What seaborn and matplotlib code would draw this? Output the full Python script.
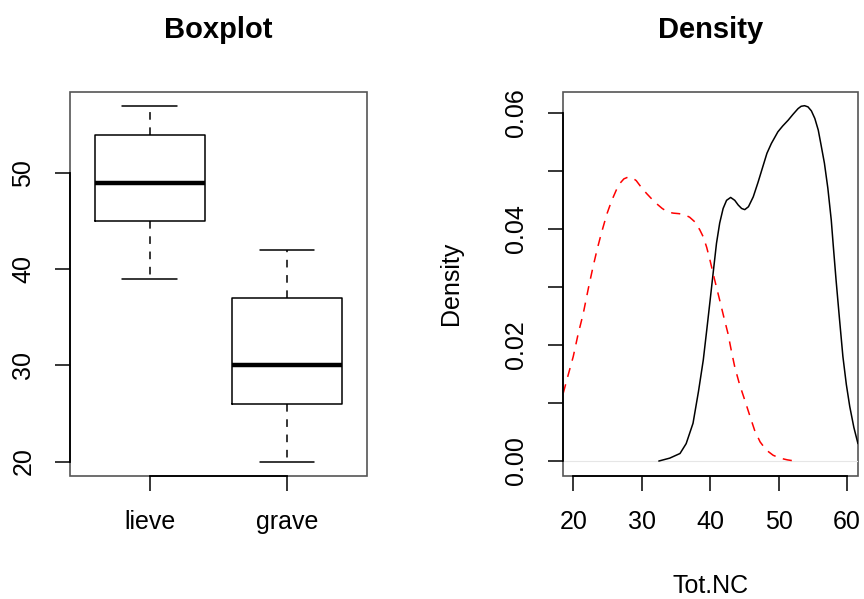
import matplotlib
matplotlib.use("Agg")
import matplotlib.pyplot as plt
import seaborn as sns
import pandas as pd

# five-number summaries (min, Q1, median, Q3, max)
lieve = [39, 45, 49, 54, 57]
grave = [20, 26, 30, 37, 42]
groups = ["lieve", "grave"]

# density curves
lieve_x = [32.5, 34.1, 35.6, 36.5, 37.5, 38.3, 39.0, 39.5, 40.0, 40.5, 40.93, 41.4,
           41.9, 42.4, 43.0, 43.6, 44.1, 44.6, 45.06, 45.6, 46.3, 47.0, 47.7, 48.3,
           48.95, 49.9, 50.6, 51.4, 52.1, 52.85, 53.3, 53.8, 54.3, 54.8, 55.3, 55.8,
           56.2, 56.7, 57.2, 57.7, 58.0, 58.4, 58.9, 59.4, 59.9, 60.4, 61.0, 61.6]
lieve_y = [0.0, 0.0005, 0.0013, 0.003, 0.0065, 0.012, 0.0174, 0.0225, 0.0277, 0.033,
           0.0375, 0.041, 0.0435, 0.0449, 0.0454, 0.0449, 0.0441, 0.0435, 0.0433, 0.0438,
           0.0455, 0.048, 0.0507, 0.053, 0.0547, 0.0567, 0.0577, 0.0587, 0.0597, 0.0607,
           0.0611, 0.0612, 0.061, 0.0603, 0.059, 0.057, 0.0545, 0.0513, 0.047, 0.0415,
           0.037, 0.0312, 0.0245, 0.018, 0.0132, 0.0094, 0.0058, 0.003]
grave_x = [18.54, 19.3, 20.0, 20.7, 21.46, 22.2, 22.9, 23.5, 24.1, 24.9, 25.6, 26.3,
           26.8, 27.4, 28.0, 28.6, 29.2, 29.9, 30.7, 31.5, 32.2, 33.0, 33.8, 34.6,
           35.5, 36.3, 37.0, 37.76, 38.5, 39.0, 39.5, 40.0, 40.6, 41.4, 42.0, 42.6,
           43.1, 43.6, 44.3, 45.06, 45.8, 46.5, 47.3, 48.2, 49.2, 50.2, 51.3, 52.4]
grave_y = [0.0117, 0.015, 0.018, 0.0218, 0.0254, 0.0297, 0.0335, 0.0365, 0.0392, 0.0425,
           0.0448, 0.0467, 0.0478, 0.0486, 0.0489, 0.0488, 0.0483, 0.0472, 0.0461, 0.0451,
           0.0443, 0.0435, 0.0429, 0.0427, 0.0426, 0.0424, 0.042, 0.0412, 0.0398, 0.0386,
           0.0368, 0.0345, 0.0315, 0.0277, 0.0248, 0.022, 0.019, 0.0162, 0.0132, 0.0105,
           0.0078, 0.0053, 0.0033, 0.0019, 0.001, 0.0005, 0.0002, 0.0]

sns.set_theme(style="white")
plt.rcParams["font.family"] = ["Liberation Sans", "DejaVu Sans"]
plt.rcParams.update({"text.color": "black", "axes.labelcolor": "black",
                     "xtick.color": "black", "ytick.color": "black"})

fig = plt.figure(figsize=(8.64, 5.99), dpi=100)
ax1 = fig.add_axes([0.081, 0.2058, 0.3434, 0.641])
ax2 = fig.add_axes([0.6516, 0.2058, 0.3414, 0.641])

df_box = pd.DataFrame({"group": ["lieve"] * len(lieve) + ["grave"] * len(grave),
                       "value": lieve + grave})
sns.boxplot(data=df_box, x="group", y="value", order=groups, ax=ax1,
            fill=False, color="black", linecolor="black", linewidth=1.1, width=0.8,
            whis=1.5, medianprops={"linewidth": 3.2},
            whiskerprops={"linestyle": (0, (5, 5))})
ax1.set_xlim(-0.58, 1.58)
ax1.set_ylim(18.52, 58.48)
ax1.set_yticks([20, 30, 40, 50])
ax1.set_xticks([0, 1])
ax1.set_xticklabels(groups)
ax1.set_xlabel("")
ax1.set_ylabel("")
ax1.set_title("Boxplot", fontsize=21, fontweight="bold", pad=39, color="black")
ax1.spines["left"].set_bounds(20, 50)
ax1.spines["bottom"].set_bounds(0, 1)

sns.lineplot(x=lieve_x, y=lieve_y, ax=ax2, color="black", linewidth=1.1, sort=False)
sns.lineplot(x=grave_x, y=grave_y, ax=ax2, color="red", linewidth=1.1, sort=False,
             dashes=False, linestyle=(0, (6, 5)))
ax2.axhline(0, color="#e6e6e6", linewidth=0.8, zorder=0)
ax2.set_xlim(18.5, 61.6)
ax2.set_ylim(-0.00253, 0.0636)
ax2.set_xticks([20, 30, 40, 50, 60])
ax2.set_yticks([0, 0.01, 0.02, 0.03, 0.04, 0.05, 0.06])
ax2.set_yticklabels(["0.00", "", "0.02", "", "0.04", "", "0.06"])
ax2.set_title("Density", fontsize=21, fontweight="bold", pad=39, color="black")
ax2.set_xlabel("Tot.NC", fontsize=18)
ax2.set_ylabel("Density", fontsize=18)
ax2.xaxis.set_label_coords(0.5, -0.255)
ax2.yaxis.set_label_coords(-0.339, 0.5)
ax2.spines["left"].set_bounds(0, 0.06)
ax2.spines["bottom"].set_bounds(20, 60)

for ax in (ax1, ax2):
    ax.patch.set_edgecolor("#555555")
    ax.patch.set_linewidth(1.2)
    ax.spines["top"].set_visible(False)
    ax.spines["right"].set_visible(False)
    for s in ("left", "bottom"):
        ax.spines[s].set_color("black")
        ax.spines[s].set_linewidth(1.3)
    ax.tick_params(axis="both", direction="out", length=11, width=1.1,
                   color="black", labelcolor="black", labelsize=18, pad=14,
                   left=True, bottom=True)
    for lab in ax.get_yticklabels():
        lab.set_rotation(90)
        lab.set_va("center")

fig.savefig("out.png", dpi=100)
